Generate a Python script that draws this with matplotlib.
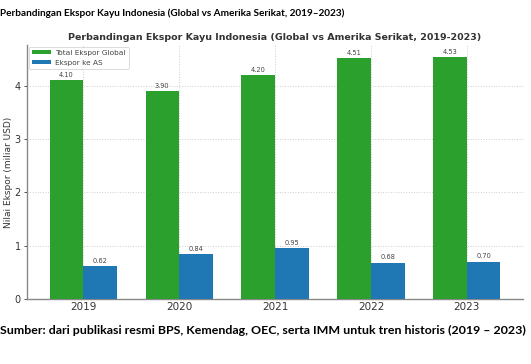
import matplotlib
matplotlib.use("Agg")
import matplotlib.pyplot as plt
import numpy as np

years = ["2019", "2020", "2021", "2022", "2023"]
total_global = [4.10, 3.90, 4.20, 4.51, 4.53]
ekspor_as = [0.62, 0.84, 0.95, 0.68, 0.70]
series_labels = ["Total Ekspor Global", "Ekspor ke AS"]
outer_title = "Perbandingan Ekspor Kayu Indonesia (Global vs Amerika Serikat, 2019–2023)"
chart_title = "Perbandingan Ekspor Kayu Indonesia (Global vs Amerika Serikat, 2019-2023)"
ylabel = "Nilai Ekspor (miliar USD)"
caption = "Sumber: dari publikasi resmi BPS, Kemendag, OEC, serta IMM untuk tren historis (2019 – 2023)"

fig = plt.figure(figsize=(5.31, 3.64), dpi=100)
ax = fig.add_axes([0.051, 0.179, 0.934, 0.697])

x = np.arange(len(years))
w = 0.35
b1 = ax.bar(x - w / 2, total_global, w, color="#2ca02c", label=series_labels[0], zorder=3)
b2 = ax.bar(x + w / 2, ekspor_as, w, color="#1f77b4", label=series_labels[1], zorder=3)

for bars in (b1, b2):
    for r in bars:
        ax.text(r.get_x() + r.get_width() / 2, r.get_height() + 0.04, f"{r.get_height():.2f}",
                ha="center", va="bottom", fontsize=4.8, color="#444444")

ax.set_xticks(x)
ax.set_xticklabels(years, fontsize=7.5, color="#333333")
ax.set_ylim(0, 4.76)
ax.set_yticks([0, 1, 2, 3, 4])
ax.tick_params(axis="y", labelsize=7, colors="#333333", length=2.5, width=0.6, pad=2)
ax.tick_params(axis="x", length=0, pad=2)
ax.set_ylabel(ylabel, fontsize=6.5, color="#333333", va="center")
ax.yaxis.set_label_coords(-0.038, 0.5)
ax.set_title(chart_title, fontsize=6.8, fontweight="bold", color="#333333", pad=4)
ax.grid(True, linestyle=":", color="#cccccc", linewidth=0.7, zorder=0)
for s in ("top", "right"):
    ax.spines[s].set_visible(False)
for s in ("left", "bottom"):
    ax.spines[s].set_color("#888888")
    ax.spines[s].set_linewidth(1.0)

leg = ax.legend(loc="upper left", fontsize=5.3, frameon=True, borderpad=0.4,
                handlelength=2.6, handleheight=0.5, labelspacing=0.55,
                borderaxespad=0.25, handletextpad=0.6)
leg.get_frame().set_edgecolor("#cccccc")
leg.get_frame().set_linewidth(0.6)
for t in leg.get_texts():
    t.set_color("#444444")

fig.text(0.0, 1 - 13 / 364, outer_title, fontsize=7.2, family="Lato", fontweight="bold",
         ha="left", va="center", color="black")
fig.text(0.0, 1 - 330 / 364, caption, fontsize=8.9, family="Lato", fontweight="bold",
         ha="left", va="center", color="black")

fig.savefig("out.png", dpi=100)
